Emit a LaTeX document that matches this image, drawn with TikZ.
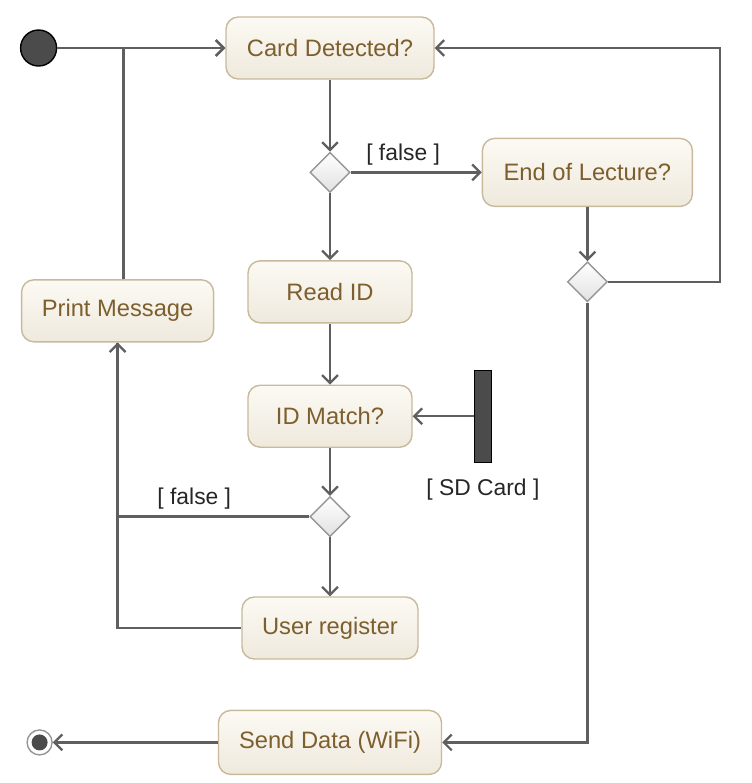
\documentclass[tikz,border=0pt]{standalone}
\usepackage{fontspec}
\setmainfont{Liberation Sans}
\usetikzlibrary{positioning,shapes.geometric,arrows.meta}
\definecolor{boxline}{RGB}{200,185,155}
\definecolor{boxtop}{RGB}{252,250,244}
\definecolor{boxbot}{RGB}{239,233,221}
\definecolor{boxtext}{RGB}{125,95,45}
\definecolor{flowline}{RGB}{95,95,95}
\definecolor{decline}{RGB}{150,150,150}
\definecolor{decbot}{RGB}{225,225,225}
\definecolor{dotfill}{RGB}{75,75,75}

\begin{document}
\begin{tikzpicture}[
		act/.style={draw=boxline, line width=0.8pt, rounded corners=7pt, top color=boxtop, bottom color=boxbot, text=boxtext, font=\fontsize{13.5}{16}\selectfont, minimum height=1.24cm},
		dec/.style={diamond, draw=decline, line width=0.8pt, top color=white, bottom color=decbot, inner sep=0pt, minimum size=0.8cm},
		flow/.style={draw=flowline, line width=1.3pt, -{Straight Barb[length=4.5pt,width=9pt]}},
		link/.style={draw=flowline, line width=1.3pt},
		guard/.style={text=black!85, font=\fontsize{13}{15}\selectfont},
	]
		\useasboundingbox (0,0) rectangle (15.04,-15.66);
		\node[act, minimum width=4.16cm] (cd) at (6.6,-0.96) {Card Detected?};
		\node[dec, below=1.44cm of cd] (d1) {};
		\node[act, minimum width=4.2cm, minimum height=1.36cm, right=2.62cm of d1] (eol) {End of Lecture?};
		\node[dec, below=1.08cm of eol] (d2) {};
		\node[act, minimum width=3.28cm, below=1.34cm of d1] (rid) {Read ID};
		\node[act, minimum width=3.28cm, below=1.22cm of rid] (idm) {ID Match?};
		\node[dec, below=0.96cm of idm] (d3) {};
		\node[act, minimum width=3.52cm, below=1.18cm of d3] (ur) {User register};
		\node[act, minimum width=4.46cm, minimum height=1.28cm, below=1cm of ur] (send) {Send Data (WiFi)};
		\node[act, minimum width=3.84cm, left=0.66cm of rid, yshift=-0.38cm] (pm) {Print Message};
		\node[circle, draw=black, line width=0.8pt, fill=dotfill, minimum size=0.72cm, left=3.36cm of cd] (start) {};
		\node[draw=black, line width=0.8pt, fill=dotfill, inner sep=0pt, minimum width=0.34cm, minimum height=1.84cm, right=1.22cm of idm] (sdc) {};
		\node[guard, below=0.2cm of sdc] (sdl) {[ SD Card ]};
		\node[circle, draw=decline, line width=0.8pt, fill=white, minimum size=0.5cm, left=3.3cm of send,
			path picture={\fill[dotfill] (path picture bounding box.center) circle (0.16cm);}] (stop) {};
		\coordinate[right=2.24cm of d2] (loop);

		\draw[flow] (start) -- (cd);
		\draw[flow] ([xshift=0.12cm]pm.north) |- (cd.west);
		\draw[flow] (cd) -- (d1);
		\draw[flow] (d1) -- node[guard, above, pos=0.4] {[ false ]} (eol);
		\draw[flow] (d1) -- (rid);
		\draw[flow] (eol) -- (d2);
		\draw[flow] (d2.east) -- (loop) |- (cd.east);
		\draw[flow] (d2.south) |- (send.east);
		\draw[flow] (rid) -- (idm);
		\draw[flow] (sdc) -- (idm);
		\draw[flow] (idm) -- (d3);
		\draw[flow] (d3.west) -| node[guard, above, pos=0.3] {[ false ]} (pm.south);
		\draw[flow] (d3) -- (ur);
		\draw[link] (ur.west) -| (pm.south);
		\draw[flow] (send) -- (stop);
	\end{tikzpicture}
\end{document}
